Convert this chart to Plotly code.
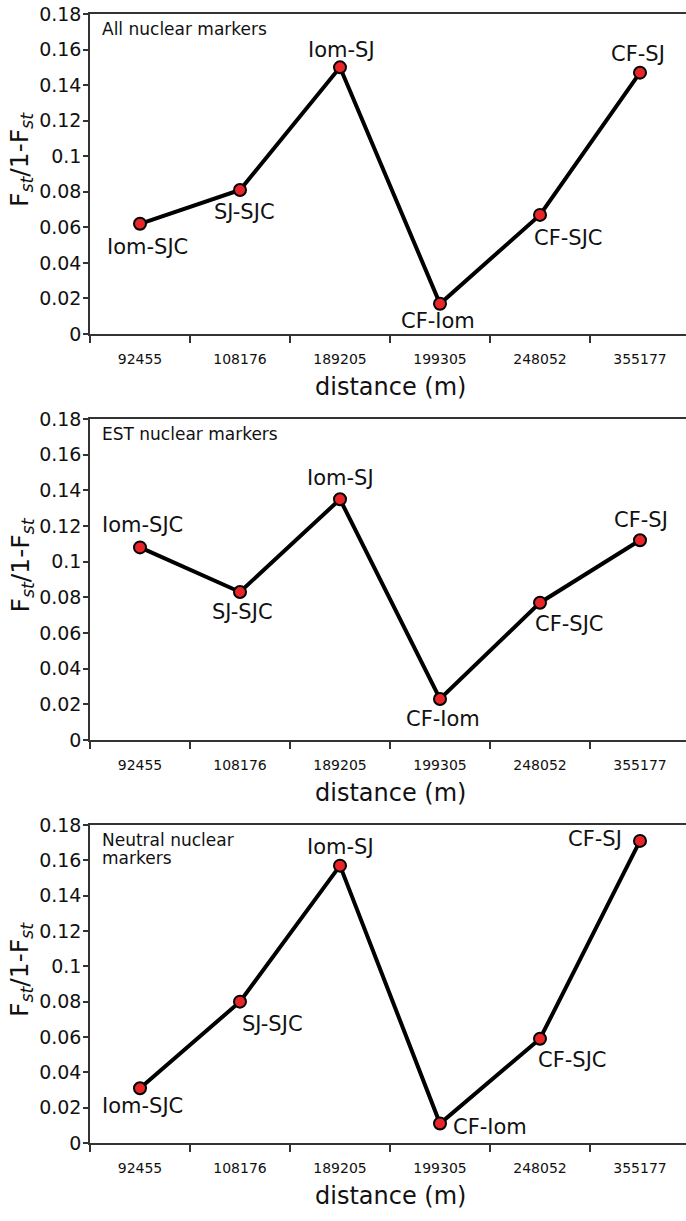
import plotly.graph_objects as go
from plotly.subplots import make_subplots

# ---------------- data ----------------
distances = ["92455", "108176", "189205", "199305", "248052", "355177"]
pairs = ["Iom-SJC", "SJ-SJC", "Iom-SJ", "CF-Iom", "CF-SJC", "CF-SJ"]
all_vals = [0.062, 0.081, 0.150, 0.017, 0.067, 0.147]
est_vals = [0.108, 0.083, 0.135, 0.023, 0.077, 0.112]
neutral_vals = [0.031, 0.080, 0.157, 0.011, 0.059, 0.171]
panel_titles = ["All nuclear markers", "EST nuclear markers", "Neutral nuclear<br>markers"]
y_ticks = [0, 0.02, 0.04, 0.06, 0.08, 0.1, 0.12, 0.14, 0.16, 0.18]
y_tick_labels = ["0", "0.02", "0.04", "0.06", "0.08", "0.1", "0.12", "0.14", "0.16", "0.18"]
x_title = "distance (m)"
y_title = "F<sub><i>st</i></sub>/1-F<sub><i>st</i></sub>"

series = [all_vals, est_vals, neutral_vals]

# ---------------- layout / style ----------------
W, H = 686, 1221
L = 90
PW = W - L
FONT = "DejaVu Sans"
panel_px = [(14, 334), (419, 740), (825, 1143)]  # top, bottom pixel rows
# label offsets (dx right, dy down) in pixels per panel / point
label_offsets = [
    [(7, 23), (4, 22), (1, -17), (-2, 17), (28, 23), (-2, -19)],
    [(2, -22), (2, 20), (0, -21), (3, 20), (29, 21), (1, -20)],
    [(2, 18), (32, 22), (0, -19), (50, 3), (32, 21), (-45, -2)],
]
TITLE_LINE = 18  # line spacing for the panel titles

fig = make_subplots(rows=3, cols=1)

annotations = []
for i, vals in enumerate(series):
    k = i + 1
    fig.add_trace(
        go.Scatter(
            x=distances, y=vals, mode="lines+markers",
            line=dict(color="black", width=4),
            marker=dict(size=12, color="#e8262a", line=dict(color="black", width=2)),
            cliponaxis=False, showlegend=False, hoverinfo="x+y",
        ),
        row=k, col=1,
    )
    top, bot = panel_px[i]
    xa = "xaxis" if k == 1 else f"xaxis{k}"
    ya = "yaxis" if k == 1 else f"yaxis{k}"
    fig.update_layout({
        xa: dict(
            domain=[0, 1], type="category", range=[-0.5, 5.46],
            showline=True, linecolor="#333", linewidth=1.5, mirror=True,
            ticks="outside", tickson="boundaries", ticklen=7, tickcolor="#333", tickwidth=1.5,
            tickfont=dict(family=FONT, size=14, color="#111"),
            ticklabelstandoff=11, automargin=False,
            showgrid=False, zeroline=False, fixedrange=True,
        ),
        ya: dict(
            domain=[1 - bot / H, 1 - top / H], range=[0, 0.18],
            tickvals=y_ticks, ticktext=y_tick_labels,
            showline=True, linecolor="#333", linewidth=1.5,
            ticks="outside", ticklen=5, tickcolor="#333", tickwidth=1.5,
            tickfont=dict(family=FONT, size=19, color="#111"),
            ticklabelstandoff=-2, automargin=False,
            showgrid=False, zeroline=False, fixedrange=True,
        ),
    })
    xr = "x" if k == 1 else f"x{k}"
    yr = "y" if k == 1 else f"y{k}"
    for j, (d, v, p) in enumerate(zip(distances, vals, pairs)):
        dx, dy = label_offsets[i][j]
        annotations.append(dict(
            x=distances.index(d), y=v, xref=xr, yref=yr, text=p, showarrow=False,
            xshift=dx, yshift=-dy, xanchor="center", yanchor="middle",
            font=dict(family=FONT, size=21, color="#111"),
        ))
    # panel title (one annotation per line for tight spacing)
    for n, line in enumerate(panel_titles[i].split("<br>")):
        annotations.append(dict(
            x=(100 - L) / PW, y=1 - (top + 3 + n * TITLE_LINE) / H, xref="paper", yref="paper",
            text=line, showarrow=False, xanchor="left", yanchor="top",
            align="left", font=dict(family=FONT, size=17, color="#111"),
        ))
    # x title
    annotations.append(dict(
        x=(390 - L) / PW, y=1 - (bot + 53) / H, xref="paper", yref="paper",
        text=x_title, showarrow=False, xanchor="center", yanchor="middle",
        font=dict(family=FONT, size=24, color="#111"),
    ))
    # y title
    annotations.append(dict(
        x=(21 - L) / PW, y=1 - ((top + bot) / 2 - 14) / H, xref="paper", yref="paper",
        text=y_title, showarrow=False, textangle=-90, xanchor="center", yanchor="middle",
        font=dict(family=FONT, size=25, color="#111"),
    ))

fig.update_layout(
    width=W, height=H,
    margin=dict(l=L, r=0, t=0, b=0),
    paper_bgcolor="white", plot_bgcolor="white",
    annotations=annotations,
    font=dict(family=FONT),
)

fig.write_html(
    "out.html",
    config={"displayModeBar": False},
    post_script="document.body.style.margin='0';document.body.style.overflow='hidden';",
)
